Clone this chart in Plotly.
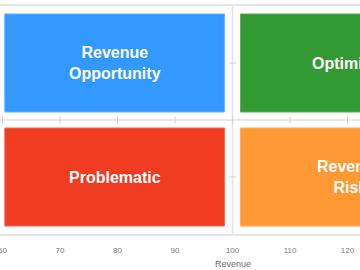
import plotly.graph_objects as go

# Quadrant definitions (data space)
x_bounds = [59, 100, 141]      # left, split, right
y_bounds = [0, 50, 100]        # bottom, split, top
quad_names = ["Revenue<br>Opportunity", "Optimized", "Problematic", "Revenue<br>Risk"]
quad_cols = [0, 1, 0, 1]       # column index (0 = left, 1 = right)
quad_rows = [1, 1, 0, 0]       # row index (0 = bottom, 1 = top)
quad_colors = ["#3399FF", "#339933", "#F03C23", "#FF9933"]
quad_edges = ["#66B3FF", "#5CAD5C", "#F46A55", "#FFAD5C"]

x_ticks = [60, 70, 80, 90, 100, 110, 120]
y_ticks = [25, 75]
x_title = "Revenue"

x_view = [59.57, 122.17]
inset_x = 1.4
inset_y = 3.5

fig = go.Figure()

for name, c, r, col, edge in zip(quad_names, quad_cols, quad_rows, quad_colors, quad_edges):
    x0, x1 = x_bounds[c], x_bounds[c + 1]
    y0, y1 = y_bounds[r], y_bounds[r + 1]
    fig.add_shape(type="rect", xref="x", yref="y",
                  x0=x0 + inset_x, x1=x1 - inset_x, y0=y0 + inset_y, y1=y1 - inset_y,
                  fillcolor=col, line=dict(color=edge, width=1), layer="above")
    fig.add_annotation(x=(x0 + x1) / 2, y=(y0 + y1) / 2, xref="x", yref="y",
                       text=name, showarrow=False,
                       font=dict(family="Liberation Sans, Arial", size=16, color="white", weight="bold"))

# crosshair lines
fig.add_shape(type="line", xref="x", yref="y", x0=x_bounds[1], x1=x_bounds[1],
              y0=y_bounds[0], y1=y_bounds[2], line=dict(color="#E2E2E2", width=1.5), layer="below")
fig.add_shape(type="line", xref="x", yref="y", x0=x_bounds[0], x1=x_bounds[2],
              y0=y_bounds[1], y1=y_bounds[1], line=dict(color="#E2E2E2", width=1.5), layer="below")

# crosshair tick marks
fig.add_trace(go.Scatter(x=x_ticks, y=[y_bounds[1]] * len(x_ticks), mode="markers",
                         marker=dict(symbol="line-ns", size=5, line=dict(color="#D0D0D0", width=1)),
                         hoverinfo="skip", showlegend=False))
fig.add_trace(go.Scatter(x=[x_bounds[1]] * len(y_ticks), y=y_ticks, mode="markers",
                         marker=dict(symbol="line-ew", size=5, line=dict(color="#D0D0D0", width=1)),
                         hoverinfo="skip", showlegend=False))

fig.add_annotation(x=x_bounds[1], y=0, xref="x", yref="paper", yanchor="top", yshift=-23,
                   text=x_title, showarrow=False,
                   font=dict(family="Liberation Sans, Arial", size=9, color="#6E6E6E"))

fig.update_layout(
    width=360, height=270,
    margin=dict(l=0, r=0, t=6, b=36, autoexpand=False),
    paper_bgcolor="white", plot_bgcolor="white",
    showlegend=False,
    xaxis=dict(range=x_view, tickvals=x_ticks, showgrid=False, zeroline=False,
               showline=True, mirror=True, linecolor="#E6E6E6", linewidth=2,
               ticks="outside", ticklen=7, tickcolor="rgba(0,0,0,0)",
               ticklabeloverflow="allow", automargin=False,
               tickfont=dict(family="Liberation Sans, Arial", size=8, color="#7A7A7A")),
    yaxis=dict(range=[y_bounds[0], y_bounds[2]], showgrid=False, zeroline=False,
               showticklabels=False, showline=False, automargin=False),
)

fig.write_html("out.html", config={"displayModeBar": False})
